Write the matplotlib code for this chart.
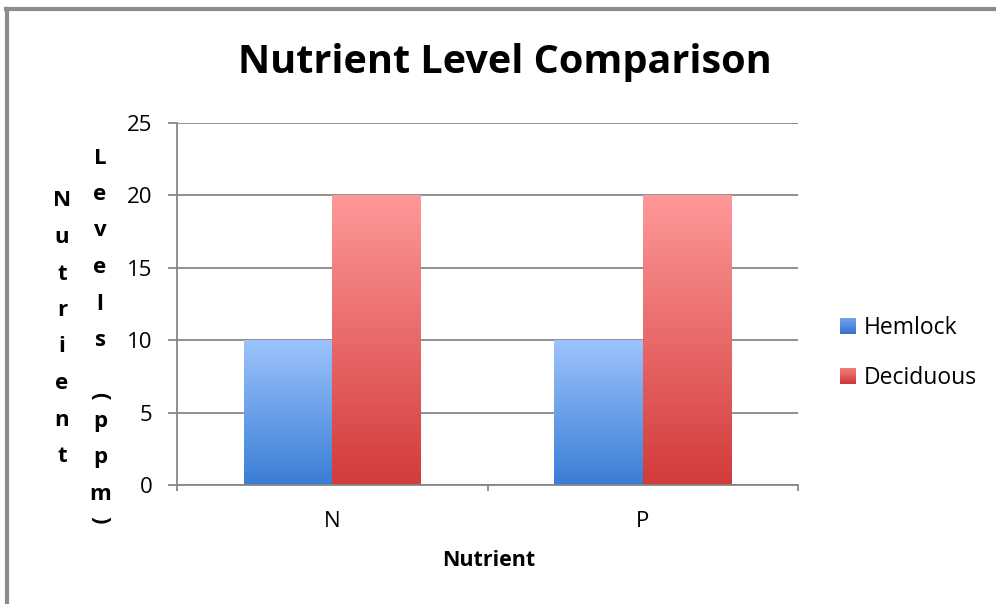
import numpy as np
import matplotlib
matplotlib.use("Agg")
import matplotlib.pyplot as plt
from matplotlib.colors import LinearSegmentedColormap, to_rgb
from matplotlib.patches import Patch, Rectangle
from matplotlib.lines import Line2D
from matplotlib.legend_handler import HandlerBase

# ---------------- data ----------------
categories = ["N", "P"]
series_names = ["Hemlock", "Deciduous"]
hemlock = [10, 10]
deciduous = [20, 20]
y_ticks = [0, 5, 10, 15, 20, 25]
title = "Nutrient Level Comparison"
x_label = "Nutrient"
y_label_col1 = "Nutrient"
y_label_col2 = "Levels (ppm)"

# ---------------- styling ----------------
FONT = ["Open Sans", "DejaVu Sans"]
plt.rcParams["font.family"] = FONT
GRAY = "#878787"
W, H = 996, 604

blue_top, blue_bot = "#9cc3fb", "#3a7dd6"
red_top, red_bot = "#fe9898", "#d23b3a"

fig = plt.figure(figsize=(W / 100, H / 100), dpi=100)
fig.patch.set_facecolor("white")

def fx(px):
    return px / W

def fy(py):
    return 1 - py / H

ax = fig.add_axes([fx(177), fy(485), fx(798) - fx(177), fy(123) - fy(485)])

x = np.arange(len(categories))
bw = 0.285
bars_h = ax.bar(x - bw / 2, hemlock, width=bw, facecolor="none", edgecolor="none", zorder=3)
bars_d = ax.bar(x + bw / 2, deciduous, width=bw, facecolor="none", edgecolor="none", zorder=3)

grad = np.linspace(0, 1, 256).reshape(-1, 1)
for bars, c_bot, c_top in [(bars_h, blue_bot, blue_top), (bars_d, red_bot, red_top)]:
    cmap = LinearSegmentedColormap.from_list("g", [c_bot, c_top])
    for rect in bars:
        x0, y0 = rect.get_x(), rect.get_y()
        w, h = rect.get_width(), rect.get_height()
        im = ax.imshow(grad, extent=[x0, x0 + w, y0, y0 + h], origin="lower",
                       aspect="auto", cmap=cmap, zorder=2, interpolation="bilinear")
        im.set_clip_path(rect)

ax.set_xlim(-0.5, len(categories) - 0.5)
ax.set_ylim(0, 25)
ax.set_aspect("auto")

# grid & spines
ax.set_yticks(y_ticks)
ax.yaxis.grid(True, color=GRAY, linewidth=1.3, zorder=1)
ax.set_axisbelow(True)
for s in ["top", "right"]:
    ax.spines[s].set_visible(False)
for s in ["left", "bottom"]:
    ax.spines[s].set_color(GRAY)
    ax.spines[s].set_linewidth(1.3)

ax.tick_params(axis="y", length=6.5, width=1.3, color=GRAY, pad=11,
               labelsize=16, labelcolor="black")
ax.set_xticks(x)
ax.set_xticklabels(categories)
ax.set_xticks(np.arange(-0.5, len(categories), 1.0), minor=True)
ax.tick_params(axis="x", which="major", length=0, pad=19, labelsize=16)
ax.tick_params(axis="x", which="minor", length=4, width=1.3, color=GRAY)

# title and labels
fig.text(fx(505), fy(62), title, ha="center", va="center",
         fontsize=28.5, fontweight="bold")
fig.text(fx(489), fy(560), x_label, ha="center", va="center",
         fontsize=15.5, fontweight="bold")

# stacked y label
def stacked(text, xc, y_first, step=36.5, paren_h=14, space_h=30):
    y = y_first
    prev_h = None
    for ch in text:
        if ch in "()":
            h = paren_h
        elif ch == " ":
            h = space_h
        else:
            h = step
        if prev_h is not None:
            y += (prev_h + h) / 2
        prev_h = h
        if ch == " ":
            continue
        if ch in "()":
            fig.text(fx(xc), fy(y), ch, ha="center", va="center", rotation=-90,
                     fontsize=16, fontweight="bold")
        else:
            fig.text(fx(xc), fy(y), ch, ha="center", va="center",
                     fontsize=16, fontweight="bold")

stacked(y_label_col1, 62, 201)
stacked(y_label_col2, 100, 158)

# legend with gradient swatches
class GradHandler(HandlerBase):
    def __init__(self, c_top, c_bot, n=10):
        super().__init__()
        self.c_top, self.c_bot, self.n = np.array(to_rgb(c_top)), np.array(to_rgb(c_bot)), n

    def create_artists(self, legend, orig_handle, xdescent, ydescent, width, height,
                       fontsize, trans):
        arts = []
        for i in range(self.n):
            t = i / (self.n - 1)
            col = self.c_bot * (1 - t) + self.c_top * t
            r = Rectangle((-xdescent, -ydescent + height * i / self.n), width,
                          height / self.n + 0.3, facecolor=col, edgecolor="none",
                          transform=trans)
            arts.append(r)
        return arts

h1 = Patch(facecolor="#4a86dd")
h2 = Patch(facecolor="#e06060")
fig.legend([h1, h2], series_names, loc="center left",
           bbox_to_anchor=(fx(840), fy(353)), frameon=False, fontsize=16.5,
           handlelength=0.68, handleheight=0.68, handletextpad=0.35,
           labelspacing=1.15, borderpad=0, borderaxespad=0,
           handler_map={h1: GradHandler("#6fa2ee", "#3a74cf"),
                        h2: GradHandler("#f27a7a", "#cf3a3a")})

# outer border (left and top)
fig.add_artist(Line2D([fx(7), fx(7)], [fy(9), 0], color="#8c8c8c", linewidth=3,
                      transform=fig.transFigure))
fig.add_artist(Line2D([fx(5.5), 1], [fy(9), fy(9)], color="#8c8c8c", linewidth=3,
                      transform=fig.transFigure))

fig.savefig("out.png", dpi=100, facecolor="white")
